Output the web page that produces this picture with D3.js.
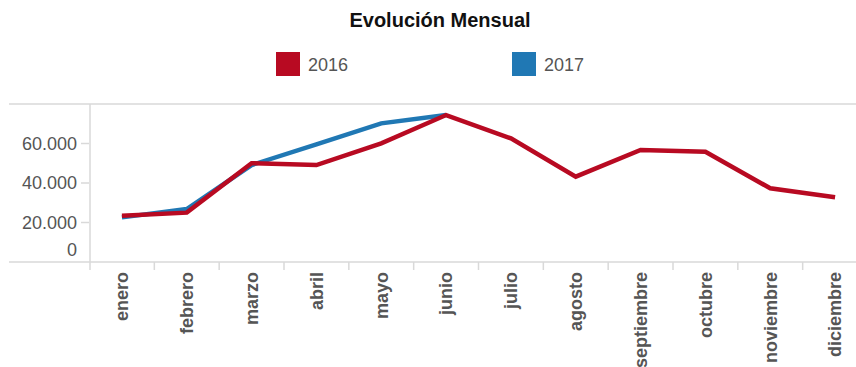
<!DOCTYPE html>
<html>
<head>
<meta charset="utf-8">
<script src="https://cdn.jsdelivr.net/npm/d3@7"></script>
<style>
  html, body { margin: 0; padding: 0; background: #fff; }
  svg { display: block; font-family: "Liberation Sans", Arial, sans-serif; }
</style>
</head>
<body>
<svg id="chart" width="856" height="367"></svg>
<script>
// Monthly values
const months = ["enero", "febrero", "marzo", "abril", "mayo", "junio",
  "julio", "agosto", "septiembre", "octubre", "noviembre", "diciembre"];
const values2016 = [23400, 25000, 50000, 49100, 60100, 74400, 62600, 43200, 56700, 55800, 37300, 32800];
const values2017 = [22600, 26800, 49100, 59600, 70200, 74400];
const seriesNames = ["2016", "2017"];
const seriesColors = ["#b80a22", "#2078b4"];
const yTicks = [0, 20000, 40000, 60000];

const svg = d3.select("#chart");
const W = 856;

const x = d3.scaleBand().domain(months).range([89.5, 867.5]);
const y = d3.scaleLinear().domain([0, 80000]).range([262, 104]);

const fmt = v => d3.format(",")(v).replace(/,/g, ".");

// Title
svg.append("text")
  .attr("x", 440).attr("y", 27)
  .attr("text-anchor", "middle")
  .attr("font-size", 20).attr("font-weight", "bold").attr("fill", "#111")
  .text("Evolución Mensual");

// Legend
const legendX = [276, 512];
seriesNames.forEach((name, i) => {
  const g = svg.append("g").attr("transform", `translate(${legendX[i]},52)`);
  g.append("rect").attr("width", 24).attr("height", 24).attr("fill", seriesColors[i]);
  g.append("text").attr("x", 32).attr("y", 19)
    .attr("font-size", 18).attr("fill", "#555").text(name);
});

// Frame lines
const gridColor = "#d9d9d9";
svg.append("line").attr("x1", 9).attr("x2", W).attr("y1", y(80000)).attr("y2", y(80000))
  .attr("stroke", gridColor).attr("stroke-width", 1.5);
svg.append("line").attr("x1", 9).attr("x2", W).attr("y1", y(0)).attr("y2", y(0))
  .attr("stroke", gridColor).attr("stroke-width", 1.5);
svg.append("line").attr("x1", 90).attr("x2", 90).attr("y1", y(80000)).attr("y2", 270)
  .attr("stroke", gridColor).attr("stroke-width", 1.5);

// Y axis ticks and labels
yTicks.forEach(t => {
  if (t > 0) {
    svg.append("line").attr("x1", 81).attr("x2", 89).attr("y1", y(t)).attr("y2", y(t))
      .attr("stroke", gridColor).attr("stroke-width", 1.5);
  }
  svg.append("text")
    .attr("x", 77).attr("y", y(t) + (t === 0 ? -12 : 0))
    .attr("dy", "0.35em").attr("text-anchor", "end")
    .attr("font-size", 18).attr("fill", "#555")
    .text(fmt(t));
});

// X axis band boundaries
months.slice(1).forEach(m => {
  svg.append("line").attr("x1", x(m)).attr("x2", x(m)).attr("y1", y(0)).attr("y2", 270)
    .attr("stroke", gridColor).attr("stroke-width", 1.5);
});

// X labels, rotated
months.forEach(m => {
  const cx = x(m) + x.bandwidth() / 2;
  svg.append("text")
    .attr("transform", `translate(${cx},272) rotate(-90)`)
    .attr("text-anchor", "end").attr("dy", "0.35em")
    .attr("font-size", 18).attr("font-weight", "bold").attr("fill", "#555")
    .text(m);
});

// Lines
const line = d3.line()
  .x((d, i) => x(months[i]) + x.bandwidth() / 2)
  .y(d => y(d));

[values2017, values2016].forEach((vals, k) => {
  const i = k === 0 ? 1 : 0;
  svg.append("path")
    .attr("d", line(vals))
    .attr("fill", "none")
    .attr("stroke", seriesColors[i])
    .attr("stroke-width", 4.5)
    .attr("stroke-linejoin", "miter");
});
</script>
</body>
</html>
